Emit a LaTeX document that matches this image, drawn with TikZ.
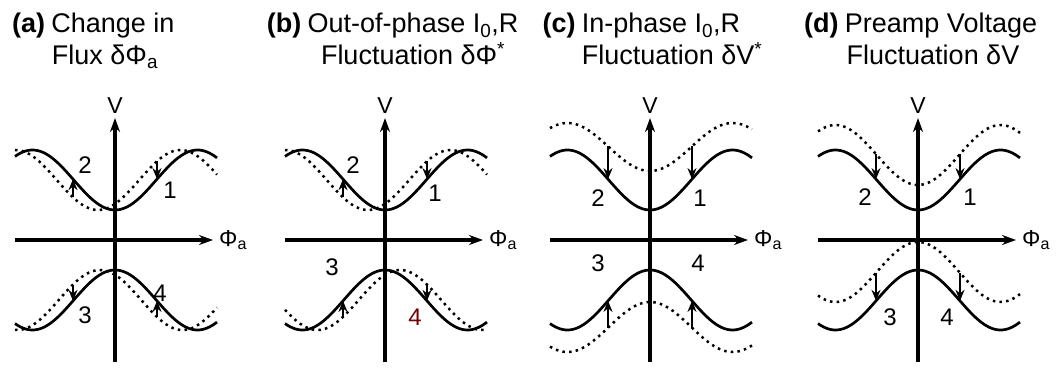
\documentclass[tikz,border=0pt]{standalone}
\usepackage{fontspec}
\setmainfont{Liberation Sans}
\usetikzlibrary{arrows.meta, positioning}
\tikzstyle{axisline} = [line width=3.6pt, -{Stealth[length=14pt,width=10pt]}]
\tikzstyle{trace} = [line width=2.7pt, smooth, samples=80, domain=-100:102]
\tikzstyle{shifted} = [trace, line width=2.5pt, dash pattern=on 2.5pt off 4.2pt]
\tikzstyle{jump} = [line width=2.6pt, -{Stealth[length=11pt,width=9pt]}]
\tikzstyle{heading} = [font=\fontsize{27}{32}\selectfont, inner sep=0pt, anchor=base]
\tikzstyle{tag} = [font=\fontsize{27}{32}\selectfont\bfseries, inner sep=0pt, anchor=base east]
\tikzstyle{digit} = [font=\fontsize{24}{28}\selectfont, inner sep=0pt]
\tikzstyle{axlabel} = [font=\fontsize{23}{27}\selectfont, inner sep=0pt]
% axes of one panel, #1 = panel letter
\newcommand{\axes}[1]{%
  \coordinate (xa-#1) at (-100,240);
  \coordinate (xb-#1) at (98,240);
  \coordinate (ya-#1) at (0,362);
  \coordinate (yb-#1) at (0,118);
  \draw [axisline] (xa-#1) -- (xb-#1);
  \draw [axisline] (ya-#1) -- (yb-#1);
  \node (phi-#1) [axlabel, right=6pt of xb-#1] {Φ\textsubscript{a}};
  \node (v-#1) [axlabel, above=4pt of yb-#1] {V};
}
% solid and dotted curves, #1-#3 upper dotted, #4-#6 lower dotted
\newcommand{\traces}[6]{%
  \draw [trace] plot (\x, {sq(\x,180,30,0)});
  \draw [trace] plot (\x, {sq(\x,300,-30,0)});
  \draw [shifted] plot (\x, {sq(\x,#1,#2,#3)});
  \draw [shifted] plot (\x, {sq(\x,#4,#5,#6)});
  \draw [jump] (-42, {sq(-42,#1,#2,#3)}) -- (-42, {sq(-42,180,30,0)});
  \draw [jump] (42, {sq(42,#1,#2,#3)}) -- (42, {sq(42,180,30,0)});
  \draw [jump] (-42, {sq(-42,#4,#5,#6)}) -- (-42, {sq(-42,300,-30,0)});
  \draw [jump] (42, {sq(42,#4,#5,#6)}) -- (42, {sq(42,300,-30,0)});
}

\begin{document}
\begin{tikzpicture}[x=1pt, y=-1pt, declare function={sq(\x,\c,\a,\s)=\c+\a*cos(2.1818*(\x-(\s)));}]
\useasboundingbox (0,0) rectangle (1057,369);

            % (a) change in flux
            \begin{scope}[xshift=115pt]
            \axes{a}
            \traces{180}{30}{-17}{300}{-30}{-15}
            \node (head1-a) [heading] at (-2,33) {Change in};
            \node (head2-a) [heading] at (-10,65) {Flux δΦ\textsubscript{a}};
            \node (tag-a) [tag] at ([xshift=-6pt]head1-a.base west) {(a)};
            \node (n2-a) [digit] at (-30,165) {2};
            \node (n1-a) [digit] at (55,190) {1};
            \node (n3-a) [digit] at (-30,315) {3};
            \node (n4-a) [digit] at (45,293) {4};
            \end{scope}

            % (b) out-of-phase fluctuation
            \begin{scope}[xshift=385pt]
            \axes{b}
            \traces{180}{30}{-17}{300}{-30}{15}
            \node (head1-b) [heading] at (28,33) {Out-of-phase I\textsubscript{0},R};
            \node (head2-b) [heading] at (28,65) {Fluctuation δΦ\textsuperscript{*}};
            \node (tag-b) [tag] at ([xshift=-6pt]head1-b.base west) {(b)};
            \node (n2-b) [digit] at (-32,165) {2};
            \node (n1-b) [digit] at (50,193) {1};
            \node (n3-b) [digit] at (-53,267) {3};
            \node (n4-b) [digit, text=red!45!black] at (30,317) {4};
            \end{scope}

            % (c) in-phase fluctuation
            \begin{scope}[xshift=650pt]
            \axes{c}
            \traces{147}{24}{0}{327}{-25}{0}
            \node (head1-c) [heading] at (11,33) {In-phase I\textsubscript{0},R};
            \node (head2-c) [heading] at (22,65) {Fluctuation δV\textsuperscript{*}};
            \node (tag-c) [tag] at ([xshift=-6pt]head1-c.base west) {(c)};
            \node (n2-c) [digit] at (-52,198) {2};
            \node (n1-c) [digit] at (50,198) {1};
            \node (n3-c) [digit] at (-52,263) {3};
            \node (n4-c) [digit] at (48,263) {4};
            \end{scope}

            % (d) preamp voltage
            \begin{scope}[xshift=918pt]
            \axes{d}
            \traces{155}{30}{0}{272}{-30}{0}
            \node (head1-d) [heading] at (23,33) {Preamp Voltage};
            \node (head2-d) [heading] at (15,65) {Fluctuation δV};
            \node (tag-d) [tag] at ([xshift=-6pt]head1-d.base west) {(d)};
            \node (n2-d) [digit] at (-53,197) {2};
            \node (n1-d) [digit] at (52,197) {1};
            \node (n3-d) [digit] at (-28,317) {3};
            \node (n4-d) [digit] at (29,317) {4};
            \end{scope}
\end{tikzpicture}
\end{document}
